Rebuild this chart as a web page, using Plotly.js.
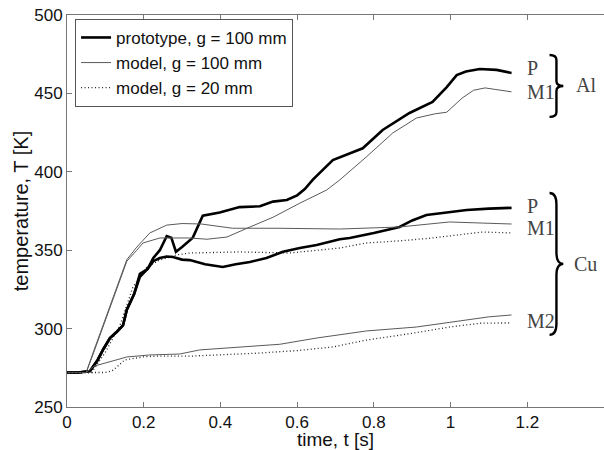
<!DOCTYPE html>
<html><head><meta charset="utf-8">
<script src="https://cdn.plot.ly/plotly-3.0.1.min.js"></script>
<style>body{margin:0;background:#fff}#c{width:604px;height:450px}</style>
</head><body><div id="c"></div>
<script>
// Al, prototype g=100 mm
const alP_t = [0,0.03,0.06,0.08,0.095,0.112,0.13,0.146,0.156,0.175,0.19,0.21,0.225,0.242,0.26,0.272,0.284,0.30,0.328,0.354,0.398,0.45,0.503,0.537,0.573,0.60,0.62,0.641,0.693,0.771,0.823,0.893,0.953,0.99,1.016,1.04,1.076,1.12,1.159];
const alP_T = [272,272,273,280,287,294,298,302,312,322,335,338,345,350,359,358,349,352,358,372,374,377.5,378,381,382,385,389,395,407.5,415,426.7,437.5,444.5,454,461.7,464,465.6,465,463];
// Al, model g=100 mm
const alM1_t = [0,0.05,0.07,0.112,0.156,0.182,0.198,0.242,0.32,0.365,0.417,0.477,0.537,0.607,0.677,0.711,0.78,0.849,0.911,0.96,0.99,1.03,1.06,1.09,1.159];
const alM1_T = [272,272,285,313.8,343,350,354.6,357.8,357.8,357,358.4,364.8,371,380,388.4,394.8,409.4,424.7,434.3,437,438,447,452,453.5,451];
// Cu, prototype g=100 mm
const cuP_t = [0,0.03,0.06,0.08,0.095,0.112,0.13,0.146,0.156,0.175,0.19,0.21,0.225,0.242,0.26,0.276,0.30,0.32,0.36,0.406,0.44,0.477,0.52,0.563,0.607,0.651,0.711,0.737,0.80,0.867,0.90,0.937,0.99,1.042,1.10,1.159];
const cuP_T = [272,272,273,280,287,294,298,302,312,322,333,338,343,345,346,345.7,344,343.7,341,339.3,341,342.5,345,349,351.4,353.3,357,357.8,361,364.8,369,372.4,374,375.6,376.5,377];
// Cu, model g=100 mm (M1)
const cuM1_t = [0,0.05,0.07,0.112,0.156,0.182,0.216,0.26,0.30,0.35,0.432,0.55,0.711,0.867,0.95,0.997,1.083,1.159];
const cuM1_T = [272,272,286,314,344,352,361,366,367,366.7,364,364,363.5,364.8,367,368,367.3,366.7];
// Cu, model g=20 mm (M1)
const cuM1d_t = [0,0.065,0.10,0.138,0.172,0.208,0.242,0.286,0.32,0.45,0.58,0.65,0.711,0.78,0.87,0.953,1.02,1.083,1.159];
const cuM1d_T = [272,272,285,302,326.5,339.3,343.7,347,348.2,348.9,348.2,350,351.4,354.6,356,357.8,360,361.6,361];
// Cu, model g=100 mm (M2)
const cuM2_t = [0,0.05,0.07,0.112,0.156,0.216,0.294,0.346,0.45,0.555,0.651,0.781,0.911,0.97,1.031,1.10,1.159];
const cuM2_T = [272,272,276,278.7,281.9,283.2,283.8,286.4,288,290,294,298.5,301,303,304.8,307.5,308.7];
// Cu, model g=20 mm (M2)
const cuM2d_t = [0,0.10,0.117,0.13,0.15,0.20,0.242,0.328,0.42,0.503,0.60,0.693,0.781,0.90,0.997,1.08,1.159];
const cuM2d_T = [272,272,273,275.5,280,282,282.5,282.5,283.5,284.4,286,288.3,292.7,297,301,303.5,303.6];

const xTicks = [0,0.2,0.4,0.6,0.8,1,1.2];
const xTickText = ['0','0.2','0.4','0.6','0.8','1','1.2'];
const yTicks = [250,300,350,400,450,500];
const legendNames = ['prototype, g = 100 mm','model, g = 100 mm','model, g = 20 mm'];

const sThick = {color:'#000000', width:2.6};
const sThin = {color:'#5a5a5a', width:1};
const sDot = {color:'#222222', width:1.3, dash:'1px,2.5px'};

function tr(x,y,line,grp,show){
  return {x:x,y:y,type:'scatter',mode:'lines',line:line,legendgroup:grp,
    name:legendNames[grp],showlegend:show,hoverinfo:'skip'};
}
const data = [
  tr(alP_t,alP_T,sThick,0,true),
  tr(alM1_t,alM1_T,sThin,1,true),
  tr(cuM1d_t,cuM1d_T,sDot,2,true),
  tr(cuP_t,cuP_T,sThick,0,false),
  tr(cuM1_t,cuM1_T,sThin,1,false),
  tr(cuM2_t,cuM2_T,sThin,1,false),
  tr(cuM2d_t,cuM2d_T,sDot,2,false)
];

const serif = {family:'"Liberation Serif", "Times New Roman", serif', size:20, color:'#444'};
function lab(x,y,t,anchor){return {x:x,y:y,xref:'x',yref:'y',text:t,showarrow:false,font:serif,xanchor:anchor||'left',yanchor:'middle'};}
function brace(x0,x1,x2,yT,yB){
  const ym=(yT+yB)/2, r=(yT-yB)*0.08;
  return {type:'path',xref:'x',yref:'y',line:{color:'#000',width:2.4},
    path:`M ${x0},${yT} Q ${x1},${yT} ${x1},${yT-r} L ${x1},${ym+r} Q ${x1},${ym} ${x2},${ym} Q ${x1},${ym} ${x1},${ym-r} L ${x1},${yB+r} Q ${x1},${yB} ${x0},${yB}`};
}

const layout = {
  width:604,height:450,
  margin:{l:67,r:0,t:15,b:43},
  paper_bgcolor:'#fff',plot_bgcolor:'#fff',
  font:{family:'"Liberation Sans", Arial, sans-serif',size:18,color:'#111'},
  showlegend:true,
  legend:{x:0.015,y:0.99,xanchor:'left',yanchor:'top',bgcolor:'#fff',bordercolor:'#555',borderwidth:1,
    font:{size:17,color:'#111'},itemwidth:30,tracegroupgap:0,traceorder:'normal'},
  xaxis:{range:[0,1.4],tickvals:xTicks,ticktext:xTickText,ticks:'inside',ticklen:5,tickcolor:'#777',
    showline:true,linecolor:'#777',linewidth:1,mirror:'ticks',showgrid:false,zeroline:false,
    tickfont:{size:17},title:{text:'time, t [s]',standoff:3,font:{size:19}}},
  yaxis:{range:[250,500],tickvals:yTicks,ticks:'inside',ticklen:5,tickcolor:'#777',
    showline:true,linecolor:'#777',linewidth:1,showgrid:false,zeroline:false,
    tickfont:{size:17},title:{text:'temperature, T [K]',standoff:0,font:{size:20}}},
  annotations:[
    lab(1.195,466,'P'),lab(1.195,451,'M1'),lab(1.352,455.5,'Al','center'),
    lab(1.195,378,'P'),lab(1.195,364,'M1'),lab(1.195,305,'M2'),lab(1.352,341,'Cu','center')
  ],
  shapes:[brace(1.258,1.276,1.294,474.5,435),brace(1.258,1.276,1.294,386.5,296)]
};
Plotly.newPlot('c',data,layout,{displayModeBar:false,staticPlot:true});
</script></body></html>
